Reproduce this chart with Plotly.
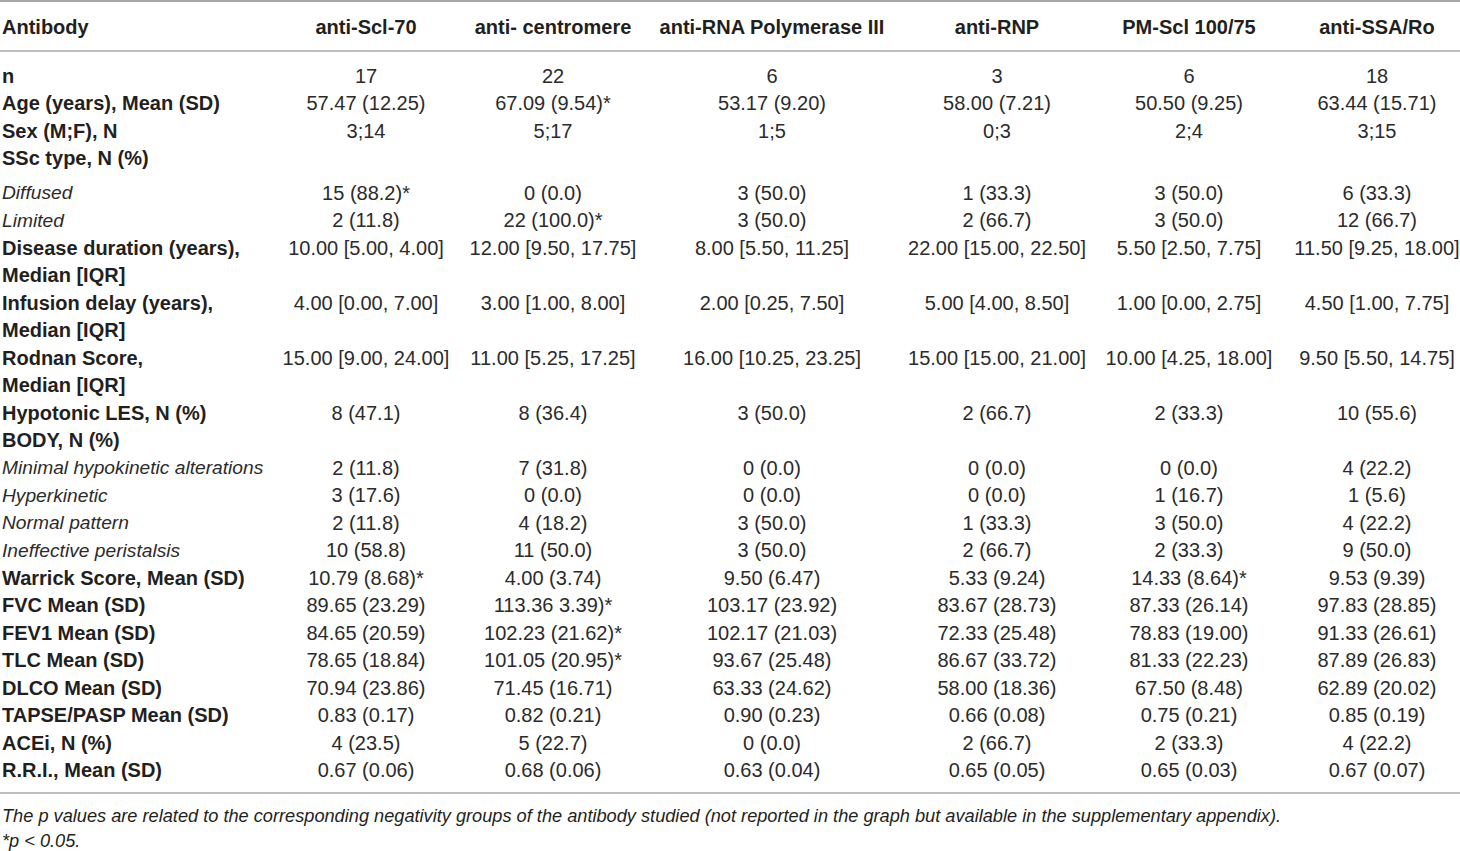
import plotly.graph_objects as go

# ============================================================
# DATOS DE LA TABLA
# ============================================================

anticuerpos = [
    "anti-Scl-70", "anti- centromere", "anti-RNA Polymerase III",
    "anti-RNP", "PM-Scl 100/75", "anti-SSA/Ro"
]

filas = [
    "n",
    "Age (years), Mean (SD)",
    "Sex (M;F), N",
    "SSc type, N (%)",
    "Diffused",
    "Limited",
    "Disease duration (years),<br>Median [IQR]",
    "Infusion delay (years),<br>Median [IQR]",
    "Rodnan Score,<br>Median [IQR]",
    "Hypotonic LES, N (%)",
    "BODY, N (%)",
    "Minimal hypokinetic alterations",
    "Hyperkinetic",
    "Normal pattern",
    "Ineffective peristalsis",
    "Warrick Score, Mean (SD)",
    "FVC Mean (SD)",
    "FEV1 Mean (SD)",
    "TLC Mean (SD)",
    "DLCO Mean (SD)",
    "TAPSE/PASP Mean (SD)",
    "ACEi, N (%)",
    "R.R.I., Mean (SD)",
]

# filas en cursiva (subcategorías)
subcategorias = [
    "Diffused", "Limited", "Minimal hypokinetic alterations",
    "Hyperkinetic", "Normal pattern", "Ineffective peristalsis"
]

scl70 = [
    "17", "57.47 (12.25)", "3;14", "", "15 (88.2)*", "2 (11.8)",
    "10.00 [5.00, 4.00]", "4.00 [0.00, 7.00]", "15.00 [9.00, 24.00]",
    "8 (47.1)", "", "2 (11.8)", "3 (17.6)", "2 (11.8)", "10 (58.8)",
    "10.79 (8.68)*", "89.65 (23.29)", "84.65 (20.59)", "78.65 (18.84)",
    "70.94 (23.86)", "0.83 (0.17)", "4 (23.5)", "0.67 (0.06)",
]

centromere = [
    "22", "67.09 (9.54)*", "5;17", "", "0 (0.0)", "22 (100.0)*",
    "12.00 [9.50, 17.75]", "3.00 [1.00, 8.00]", "11.00 [5.25, 17.25]",
    "8 (36.4)", "", "7 (31.8)", "0 (0.0)", "4 (18.2)", "11 (50.0)",
    "4.00 (3.74)", "113.36 3.39)*", "102.23 (21.62)*", "101.05 (20.95)*",
    "71.45 (16.71)", "0.82 (0.21)", "5 (22.7)", "0.68 (0.06)",
]

rna_pol3 = [
    "6", "53.17 (9.20)", "1;5", "", "3 (50.0)", "3 (50.0)",
    "8.00 [5.50, 11.25]", "2.00 [0.25, 7.50]", "16.00 [10.25, 23.25]",
    "3 (50.0)", "", "0 (0.0)", "0 (0.0)", "3 (50.0)", "3 (50.0)",
    "9.50 (6.47)", "103.17 (23.92)", "102.17 (21.03)", "93.67 (25.48)",
    "63.33 (24.62)", "0.90 (0.23)", "0 (0.0)", "0.63 (0.04)",
]

rnp = [
    "3", "58.00 (7.21)", "0;3", "", "1 (33.3)", "2 (66.7)",
    "22.00 [15.00, 22.50]", "5.00 [4.00, 8.50]", "15.00 [15.00, 21.00]",
    "2 (66.7)", "", "0 (0.0)", "0 (0.0)", "1 (33.3)", "2 (66.7)",
    "5.33 (9.24)", "83.67 (28.73)", "72.33 (25.48)", "86.67 (33.72)",
    "58.00 (18.36)", "0.66 (0.08)", "2 (66.7)", "0.65 (0.05)",
]

pm_scl = [
    "6", "50.50 (9.25)", "2;4", "", "3 (50.0)", "3 (50.0)",
    "5.50 [2.50, 7.75]", "1.00 [0.00, 2.75]", "10.00 [4.25, 18.00]",
    "2 (33.3)", "", "0 (0.0)", "1 (16.7)", "3 (50.0)", "2 (33.3)",
    "14.33 (8.64)*", "87.33 (26.14)", "78.83 (19.00)", "81.33 (22.23)",
    "67.50 (8.48)", "0.75 (0.21)", "2 (33.3)", "0.65 (0.03)",
]

ssa_ro = [
    "18", "63.44 (15.71)", "3;15", "", "6 (33.3)", "12 (66.7)",
    "11.50 [9.25, 18.00]", "4.50 [1.00, 7.75]", "9.50 [5.50, 14.75]",
    "10 (55.6)", "", "4 (22.2)", "1 (5.6)", "4 (22.2)", "9 (50.0)",
    "9.53 (9.39)", "97.83 (28.85)", "91.33 (26.61)", "87.89 (26.83)",
    "62.89 (20.02)", "0.85 (0.19)", "4 (22.2)", "0.67 (0.07)",
]

columnas_valores = [scl70, centromere, rna_pol3, rnp, pm_scl, ssa_ro]

nota_1 = ("The p values are related to the corresponding negativity groups of the "
          "antibody studied (not reported in the graph but available in the "
          "supplementary appendix).")
nota_2 = "*p < 0.05."

# ============================================================
# GEOMETRÍA (píxeles de la figura)
# ============================================================

ancho, alto = 1460, 851
fuente = "Liberation Sans"
tam = 20
tam_cursiva = 19.2
color_texto = "#231f20"
color_valores = "#2b2b2b"
color_linea = "#a8a8a8"

x_etiqueta = 2
x_columnas = [366, 553, 772, 997, 1189, 1377]
y_encabezado = 28.5
y_primera = 77.5
paso = 27.5
hueco_extra = 7   # espacio adicional tras "SSc type, N (%)"

# posición vertical (línea) de cada fila
y_filas = []
linea = 0
for f in filas:
    extra = hueco_extra if linea > 3 else 0
    y_filas.append(y_primera + linea * paso + extra)
    linea += len(f.split("<br>"))

# líneas de etiqueta (las etiquetas de dos renglones se separan)
y_neg, txt_neg = [], []   # negrita
y_cur, txt_cur = [], []   # cursiva
for f, y in zip(filas, y_filas):
    for k, parte in enumerate(f.split("<br>")):
        if f in subcategorias:
            y_cur.append(y + k * paso)
            txt_cur.append(f"<i>{parte}</i>")
        else:
            y_neg.append(y + k * paso)
            txt_neg.append(f"<b>{parte}</b>")

fig = go.Figure()

# Encabezado
fig.add_trace(go.Scatter(
    x=[x_etiqueta], y=[y_encabezado], mode="text",
    text=["<b>Antibody</b>"], textposition="middle right",
    textfont=dict(family=fuente, size=tam, color=color_texto),
    hoverinfo="skip",
))
fig.add_trace(go.Scatter(
    x=x_columnas, y=[y_encabezado] * len(anticuerpos), mode="text",
    text=[f"<b>{a}</b>" for a in anticuerpos], textposition="middle center",
    textfont=dict(family=fuente, size=tam, color=color_texto),
    hoverinfo="skip",
))

# Etiquetas de fila
fig.add_trace(go.Scatter(
    x=[x_etiqueta] * len(y_neg), y=y_neg, mode="text",
    text=txt_neg, textposition="middle right",
    textfont=dict(family=fuente, size=tam, color=color_texto),
    hoverinfo="skip",
))
fig.add_trace(go.Scatter(
    x=[x_etiqueta] * len(y_cur), y=y_cur, mode="text",
    text=txt_cur, textposition="middle right",
    textfont=dict(family=fuente, size=tam_cursiva, color=color_valores),
    hoverinfo="skip",
))

# Valores por anticuerpo
for xc, valores, nombre in zip(x_columnas, columnas_valores, anticuerpos):
    fig.add_trace(go.Scatter(
        x=[xc] * len(valores), y=y_filas, mode="text",
        text=valores, textposition="middle center",
        textfont=dict(family=fuente, size=tam, color=color_valores),
        name=nombre,
        hovertemplate=f"<b>{nombre}</b><br>%{{text}}<extra></extra>",
    ))

# Líneas horizontales
for y_px, grosor in [(1, 2), (51, 1.6), (793, 1.4)]:
    fig.add_shape(
        type="line", xref="x", yref="y",
        x0=0, x1=ancho, y0=y_px, y1=y_px,
        line=dict(color=color_linea, width=grosor),
    )

# Notas al pie
fig.add_trace(go.Scatter(
    x=[x_etiqueta, x_etiqueta], y=[817, 842], mode="text",
    text=[f"<i>{nota_1}</i>", f"<i>{nota_2}</i>"], textposition="middle right",
    textfont=dict(family=fuente, size=18.2, color=color_texto),
    hoverinfo="skip",
))

fig.update_xaxes(range=[0, ancho], visible=False, fixedrange=True)
fig.update_yaxes(range=[alto, 0], visible=False, fixedrange=True)

fig.update_layout(
    width=ancho,
    height=alto,
    margin=dict(l=0, r=0, t=0, b=0),
    paper_bgcolor="white",
    plot_bgcolor="white",
    showlegend=False,
)

fig.write_html(
    "out.html",
    config={"displayModeBar": False},
    post_script="document.body.style.margin='0';",
)
